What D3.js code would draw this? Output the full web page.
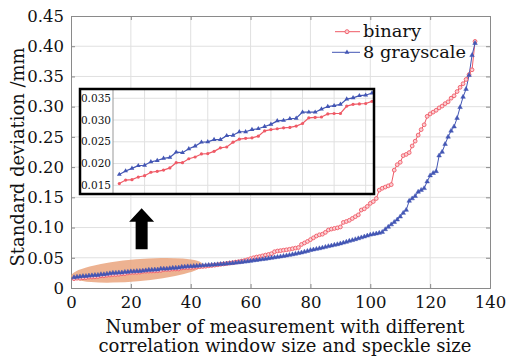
<!DOCTYPE html>
<html>
<head>
<meta charset="utf-8">
<script src="https://cdn.jsdelivr.net/npm/d3@7"></script>
<style>
  body { margin: 0; background: #fff; }
  text { font-family: "DejaVu Serif", serif; fill: #111; }
</style>
</head>
<body>
<div id="chart"></div>
<script>
// standard deviation (mm) for each measurement number 1..135
var binary = [
  0.0154, 0.0162, 0.0163, 0.0169, 0.0172, 0.0180, 0.0182, 0.0185, 0.0190, 0.0202,
  0.0202, 0.0211, 0.0215, 0.0222, 0.0223, 0.0228, 0.0236, 0.0238, 0.0249, 0.0256,
  0.0258, 0.0259, 0.0263, 0.0275, 0.0278, 0.0280, 0.0282, 0.0283, 0.0286, 0.0292,
  0.0305, 0.0306, 0.0307, 0.0314, 0.0315, 0.0315, 0.0332, 0.0336, 0.0337, 0.0338,
  0.0343, 0.0347, 0.0352, 0.0356, 0.0360, 0.0368, 0.0372, 0.0378, 0.0385, 0.0392,
  0.0398, 0.0405, 0.0412, 0.0418, 0.0428, 0.0435, 0.0445, 0.0455, 0.0468, 0.0485,
  0.0500, 0.0512, 0.0520, 0.0532, 0.0545, 0.0555, 0.0568, 0.0600, 0.0612, 0.0618,
  0.0625, 0.0632, 0.0640, 0.0650, 0.0660, 0.0670, 0.0720, 0.0745, 0.0770, 0.0800,
  0.0830, 0.0860, 0.0880, 0.0890, 0.0920, 0.0960, 0.0975, 0.0985, 0.0995, 0.1010,
  0.1085, 0.1100, 0.1120, 0.1150, 0.1180, 0.1210, 0.1290, 0.1310, 0.1350, 0.1400,
  0.1430, 0.1480, 0.1620, 0.1650, 0.1670, 0.1690, 0.1710, 0.1950, 0.2040, 0.2080,
  0.2190, 0.2210, 0.2240, 0.2350, 0.2430, 0.2530, 0.2620, 0.2700, 0.2840, 0.2880,
  0.2910, 0.2940, 0.2980, 0.3010, 0.3050, 0.3080, 0.3140, 0.3180, 0.3250, 0.3320,
  0.3380, 0.3450, 0.3530, 0.3610, 0.4080
];
var gray8 = [
  0.0175, 0.0183, 0.0189, 0.0195, 0.0196, 0.0204, 0.0207, 0.0212, 0.0214, 0.0226,
  0.0225, 0.0234, 0.0240, 0.0249, 0.0250, 0.0255, 0.0255, 0.0264, 0.0265, 0.0273,
  0.0273, 0.0278, 0.0280, 0.0285, 0.0290, 0.0298, 0.0299, 0.0303, 0.0304, 0.0318,
  0.0318, 0.0318, 0.0325, 0.0331, 0.0333, 0.0336, 0.0348, 0.0351, 0.0356, 0.0357,
  0.0362, 0.0365, 0.0368, 0.0372, 0.0376, 0.0380, 0.0383, 0.0387, 0.0390, 0.0395,
  0.0399, 0.0403, 0.0408, 0.0412, 0.0417, 0.0422, 0.0428, 0.0434, 0.0440, 0.0447,
  0.0455, 0.0462, 0.0468, 0.0475, 0.0482, 0.0490, 0.0498, 0.0505, 0.0512, 0.0520,
  0.0528, 0.0536, 0.0545, 0.0555, 0.0565, 0.0575, 0.0585, 0.0598, 0.0610, 0.0625,
  0.0635, 0.0645, 0.0655, 0.0665, 0.0678, 0.0690, 0.0700, 0.0712, 0.0722, 0.0735,
  0.0748, 0.0762, 0.0778, 0.0790, 0.0805, 0.0820, 0.0835, 0.0850, 0.0865, 0.0880,
  0.0890, 0.0900, 0.0910, 0.0925, 0.0970, 0.1010, 0.1050, 0.1090, 0.1130, 0.1180,
  0.1240, 0.1290, 0.1440, 0.1480, 0.1520, 0.1590, 0.1620, 0.1650, 0.1760, 0.1860,
  0.1900, 0.1930, 0.2190, 0.2250, 0.2380, 0.2500, 0.2600, 0.2670, 0.2810, 0.2990,
  0.3160, 0.3290, 0.3520, 0.3850, 0.4050
];
var seriesNames = ["binary", "8 grayscale"];
var xTicks = [0, 20, 40, 60, 80, 100, 120, 140];
var yTicks = [0, 0.05, 0.10, 0.15, 0.20, 0.25, 0.30, 0.35, 0.40, 0.45];
var insetCount = 41;
var insetXTicks = [5, 10, 15, 20, 25, 30, 35, 40];
var insetYTicks = [0.015, 0.020, 0.025, 0.030, 0.035];
var xTitle = ["Number of measurement with different", "correlation window size and speckle size"];
var yTitle = "Standard deviation /mm";

var width = 506, height = 359;
var margin = { top: 16, right: 16, bottom: 71, left: 71 };
var plotW = width - margin.left - margin.right,
    plotH = height - margin.top - margin.bottom;

var red = "#ef5a66", blue = "#4356b4", gridCol = "#e0e0e0", frameCol = "#8a8a8a";
var serif = "'DejaVu Serif', serif";

var svg = d3.select("#chart").append("svg")
    .attr("width", width)
    .attr("height", height);

var g = svg.append("g")
    .attr("transform", "translate(" + margin.left + "," + margin.top + ")");

var x = d3.scaleLinear().domain([0, 140]).range([0, plotW]);
var y = d3.scaleLinear().domain([0, 0.45]).range([plotH, 0]);

var idx = d3.range(1, binary.length + 1);

// grid
g.selectAll(".vgrid").data(xTicks.slice(1, -1)).join("line")
    .attr("x1", d => x(d)).attr("x2", d => x(d))
    .attr("y1", 0).attr("y2", plotH)
    .attr("stroke", gridCol);
g.selectAll(".hgrid").data(yTicks.slice(1, -1)).join("line")
    .attr("x1", 0).attr("x2", plotW)
    .attr("y1", d => y(d)).attr("y2", d => y(d))
    .attr("stroke", gridCol);

// axes with inner ticks
var xAxis = g.append("g").attr("transform", "translate(0," + plotH + ")")
    .call(d3.axisBottom(x).tickValues(xTicks).tickSize(-4).tickPadding(10).tickFormat(d3.format("d")));
var yAxis = g.append("g")
    .call(d3.axisLeft(y).tickValues(yTicks).tickSize(-4).tickPadding(7)
        .tickFormat(d => d === 0 ? "0" : d3.format(".2f")(d)));
g.append("g")
    .call(d3.axisTop(x).tickValues(xTicks).tickSize(-4).tickFormat(""));
g.append("g").attr("transform", "translate(" + plotW + ",0)")
    .call(d3.axisRight(y).tickValues(yTicks).tickSize(-4).tickFormat(""));
g.selectAll(".domain").attr("stroke", frameCol);
g.selectAll(".tick line").attr("stroke", frameCol);
g.selectAll(".tick text").style("font-family", serif).style("font-size", "16.5px").attr("fill", "#111");
xAxis.selectAll(".tick text").attr("dy", "0.6em");

// highlight ellipse over the zoomed range
g.append("ellipse")
    .attr("cx", x(22)).attr("cy", y(0.0293))
    .attr("rx", 66).attr("ry", 11)
    .attr("transform", "rotate(-5," + x(22) + "," + y(0.0293) + ")")
    .attr("fill", "#eaa57e")
    .attr("opacity", 0.85);

// legend (no background, data drawn over it)
var legend = g.append("g").attr("transform", "translate(260,0)");
[0, 1].forEach(function (k) {
    var ly = k === 0 ? 15.7 : 36.3;
    var col = k === 0 ? red : blue;
    legend.append("line").attr("x1", k === 0 ? 4 : 1).attr("x2", 29).attr("y1", ly).attr("y2", ly)
        .attr("stroke", col).attr("stroke-width", 1);
    if (k === 0) {
        legend.append("circle").attr("cx", 16).attr("cy", ly).attr("r", 2)
            .attr("fill", "#fbd0d4").attr("stroke", col).attr("stroke-width", 0.9);
    } else {
        legend.append("path").attr("d", d3.symbol().type(d3.symbolTriangle).size(10))
            .attr("transform", "translate(16," + ly + ")").attr("fill", col);
    }
    legend.append("text").attr("x", 32).attr("y", ly).attr("dy", "0.33em")
        .style("font-size", "17.5px")
        .attr("textLength", k === 0 ? 58 : 103).attr("lengthAdjust", "spacingAndGlyphs")
        .text(seriesNames[k]);
});

// series lines
var line = d3.line().x((d, i) => x(idx[i])).y(d => y(d));
g.append("path").datum(binary).attr("d", line)
    .attr("fill", "none").attr("stroke", red).attr("stroke-width", 1);
g.append("path").datum(gray8).attr("d", line)
    .attr("fill", "none").attr("stroke", blue).attr("stroke-width", 1);

g.selectAll(".rdot").data(binary).join("circle")
    .attr("cx", (d, i) => x(idx[i])).attr("cy", d => y(d))
    .attr("r", 1.9).attr("fill", "#fbd0d4").attr("stroke", red).attr("stroke-width", 0.9);
var tri = d3.symbol().type(d3.symbolTriangle).size(9);
g.selectAll(".bdot").data(gray8).join("path")
    .attr("d", tri)
    .attr("transform", (d, i) => "translate(" + x(idx[i]) + "," + y(d) + ")")
    .attr("fill", blue).attr("stroke", blue).attr("stroke-width", 0.5);

// arrow
var ax = x(23.6), ay = y(0.132);
g.append("path")
    .attr("d", "M" + ax + "," + ay + " l-12.5,13.5 h6.5 v27.5 h12 v-27.5 h6.5 z")
    .attr("fill", "#000");

// inset
var inset = { x0: 80, y0: 89, x1: 374, y1: 194 };
var ig = svg.append("g");
ig.append("rect")
    .attr("x", inset.x0).attr("y", inset.y0)
    .attr("width", inset.x1 - inset.x0).attr("height", inset.y1 - inset.y0)
    .attr("fill", "#fff");
var ix = d3.scaleLinear().domain([0, insetCount]).range([113, 372]);
var iy = d3.scaleLinear().domain([0.01323, 0.0369]).range([193, 90]);
ig.selectAll(".ivg").data(insetXTicks).join("line")
    .attr("x1", d => ix(d)).attr("x2", d => ix(d))
    .attr("y1", inset.y0).attr("y2", inset.y1)
    .attr("stroke", gridCol);
ig.selectAll(".ihg").data(insetYTicks).join("line")
    .attr("x1", 113).attr("x2", inset.x1)
    .attr("y1", d => iy(d)).attr("y2", d => iy(d))
    .attr("stroke", gridCol);
ig.append("line").attr("x1", 113).attr("x2", 113).attr("y1", inset.y0).attr("y2", inset.y1)
    .attr("stroke", "#999");
ig.selectAll(".ilab").data(insetYTicks).join("text")
    .attr("x", 111).attr("y", d => iy(d)).attr("dy", "0.35em")
    .attr("text-anchor", "end")
    .style("font-size", "10.5px")
    .text(d => d3.format(".3f")(d));

var iline = d3.line().x((d, i) => ix(idx[i])).y(d => iy(d));
var bIn = binary.slice(0, insetCount), gIn = gray8.slice(0, insetCount);
ig.append("path").datum(bIn).attr("d", iline).attr("fill", "none").attr("stroke", red).attr("stroke-width", 1.2);
ig.append("path").datum(gIn).attr("d", iline).attr("fill", "none").attr("stroke", blue).attr("stroke-width", 1.2);
ig.selectAll(".ir").data(bIn).join("circle")
    .attr("cx", (d, i) => ix(idx[i])).attr("cy", d => iy(d)).attr("r", 1.6).attr("fill", red);
ig.selectAll(".ib").data(gIn).join("path")
    .attr("d", d3.symbol().type(d3.symbolTriangle).size(10))
    .attr("transform", (d, i) => "translate(" + ix(idx[i]) + "," + iy(d) + ")")
    .attr("fill", blue);
ig.append("rect")
    .attr("x", inset.x0).attr("y", inset.y0)
    .attr("width", inset.x1 - inset.x0).attr("height", inset.y1 - inset.y0)
    .attr("fill", "none").attr("stroke", "#000").attr("stroke-width", 2.5);

// axis titles
var xt = svg.append("text").attr("text-anchor", "middle").style("font-size", "18px");
xTitle.forEach(function (t, k) {
    xt.append("tspan").attr("x", 285).attr("y", 332.5 + k * 19)
        .attr("textLength", k === 0 ? 359 : 373).attr("lengthAdjust", "spacingAndGlyphs")
        .text(t);
});
svg.append("text")
    .attr("transform", "translate(24,157) rotate(-90)")
    .attr("text-anchor", "middle")
    .style("font-size", "18px")
    .attr("textLength", 219).attr("lengthAdjust", "spacingAndGlyphs")
    .text(yTitle);
</script>
</body>
</html>
